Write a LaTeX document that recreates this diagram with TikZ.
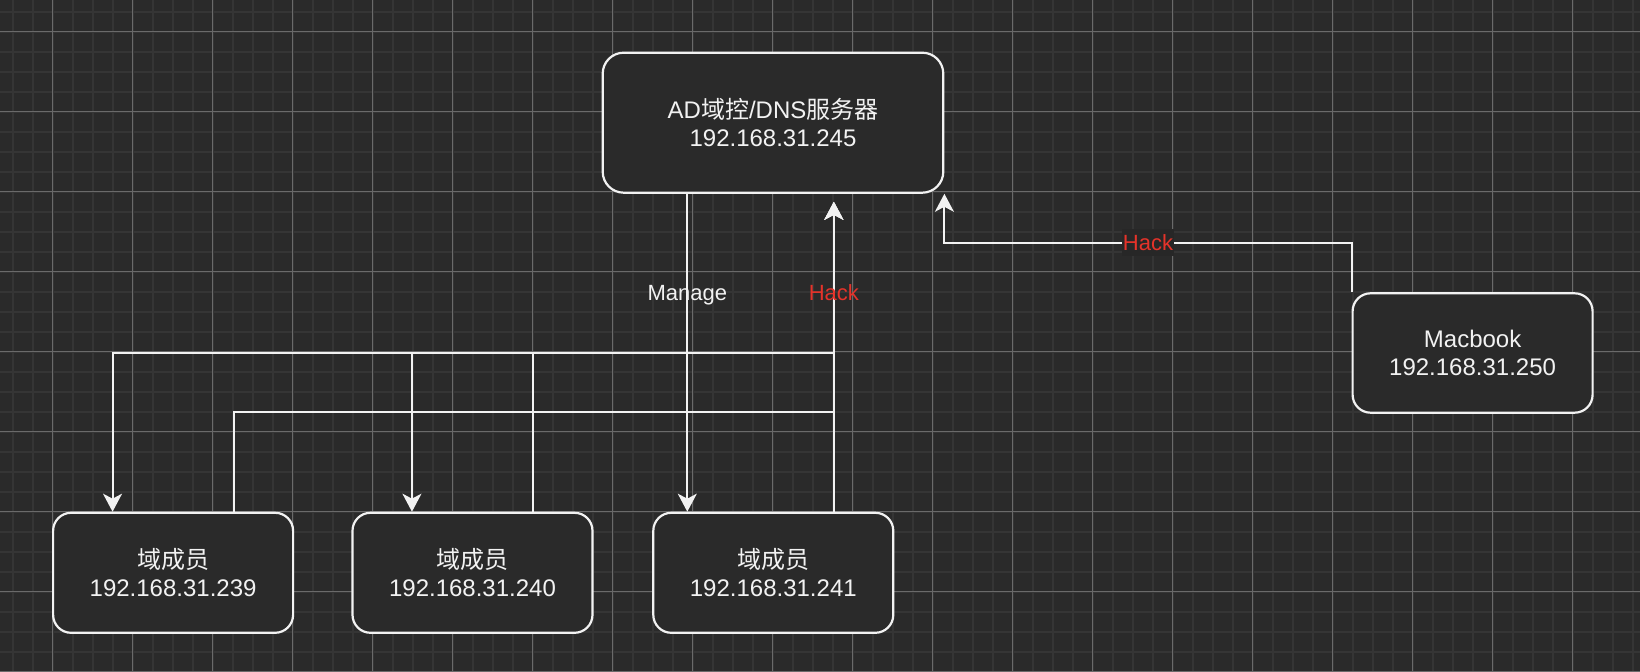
\documentclass[tikz,border=0pt]{standalone}
\usepackage{fontspec}
\setmainfont{Liberation Sans}
\newfontfamily\cjk{Noto Sans CJK SC}
\usepackage{tikz}
\usetikzlibrary{arrows.meta,calc}
\definecolor{bg}{HTML}{2A2A2A}
\definecolor{gminor}{HTML}{353535}
\definecolor{gmajor}{HTML}{6A6A6A}
\definecolor{fg}{HTML}{F2F2F2}
\definecolor{hackred}{HTML}{E5332A}
\definecolor{lblbg}{HTML}{272727}
\tikzset{rbox/.style={rectangle,draw=fg,fill=bg,line width=1.1pt,rounded corners=9pt,minimum width=120pt,minimum height=60pt,inner sep=0pt,align=center,text=fg,font=\fontsize{12}{14.2}\selectfont}}
\tikzset{wire/.style={draw=fg,line width=1pt}}
\tikzset{hlbl/.style={text=hackred,font=\fontsize{11}{13}\selectfont,inner sep=0pt}}

\begin{document}
\begin{tikzpicture}[>={Stealth[length=9pt,width=9.5pt,inset=2.5pt]},x=0.5pt,y=-0.5pt]
    \useasboundingbox (0,0) rectangle (1640,672);
    % canvas grid
    \fill[bg] (0,0) rectangle (1640,672);
    \foreach \x in {12.5,32.5,...,1640} \draw[gminor,line width=1pt] (\x,0) -- (\x,672);
    \foreach \y in {12,32,...,672} \draw[gminor,line width=1pt] (0,\y) -- (1640,\y);
    \foreach \x in {52.5,132.5,...,1640} \draw[gmajor,line width=0.5pt] (\x,0) -- (\x,672);
    \foreach \y in {32,112,...,672} \draw[gmajor,line width=0.5pt] (0,\y) -- (1640,\y);

    \node[rbox,minimum width=170.3pt,minimum height=70pt,rounded corners=10.5pt] (ad) at (773,122.7) {AD{\cjk 域控}/DNS{\cjk 服务器}\\192.168.31.245};
    \node[rbox] (m1) at (173.1,572.8) {{\cjk 域成员}\\192.168.31.239};
    \node[rbox] (m2) at (472.5,572.8) {{\cjk 域成员}\\192.168.31.240};
    \node[rbox] (m3) at (773.3,572.8) {{\cjk 域成员}\\192.168.31.241};
    \node[rbox,minimum height=59.7pt] (mb) at (1472.6,353) {Macbook\\192.168.31.250};

    % ports and bends
    \coordinate (adm) at ($(ad.south west)!.25!(ad.south east)$);
    \foreach \m in {m1,m2,m3} {
        \coordinate (\m-in) at ($(\m.north west)!.25!(\m.north east)$);
        \coordinate (\m-out) at ($(\m.north west)!.75!(\m.north east)$);
    }
    \coordinate (adh0) at (m3-out |- ad.south);
    \coordinate (adh) at ([yshift=-4pt]adh0);
    \coordinate (bus1) at (0,353);
    \coordinate (bus2) at (0,412.5);
    \coordinate (bus3) at (0,242.7);

    \draw [wire,->] (adm) |- (bus1 -| m1-in) -- (m1-in);
    \draw [wire,->] (adm) |- (bus1 -| m2-in) -- (m2-in);
    \draw [wire,->] (adm) to []node[pos=.32,text=fg,font=\fontsize{11}{13}\selectfont]{Manage} (adm |- m3.north);
    \draw [wire,->] (m1-out) |- (bus2 -| adh) -- (adh);
    \draw [wire,->] (m2-out) |- (bus1 -| adh) -- (adh);
    \draw [wire,->] (m3-out) to []node[hlbl,pos=.708]{Hack} (adh);
    \draw [wire,->] (mb.north west) -- (mb.north west |- bus3) -- node[hlbl,fill=lblbg,minimum height=13.5pt,inner xsep=0.5pt]{Hack} (ad.south east |- bus3) -- (ad.south east);
\end{tikzpicture}
\end{document}
